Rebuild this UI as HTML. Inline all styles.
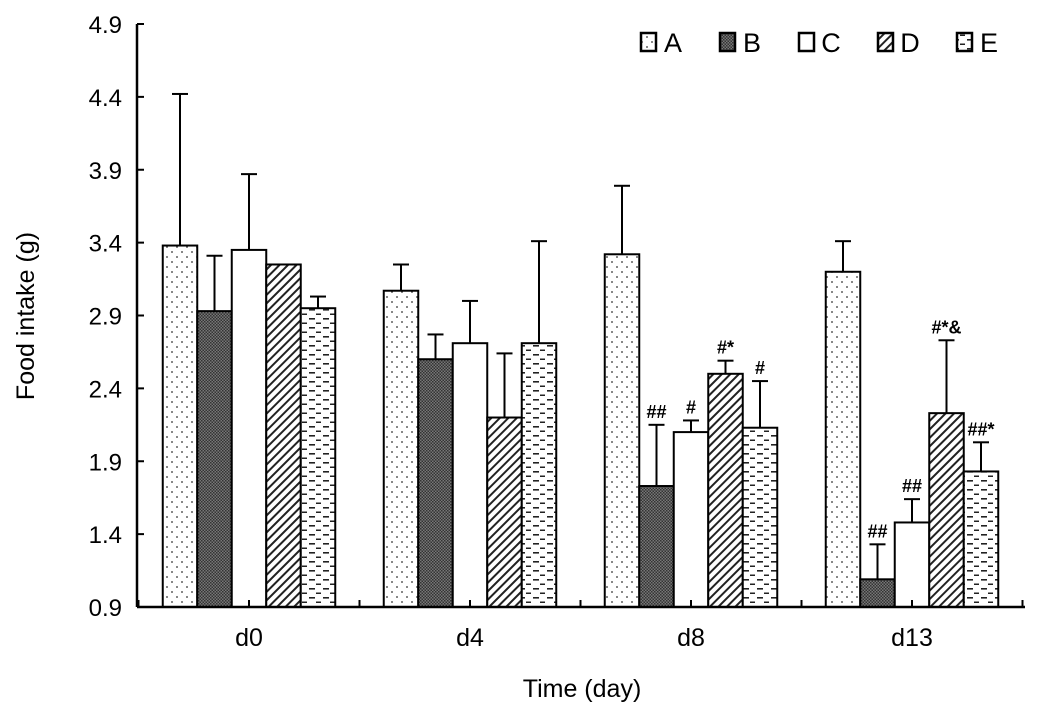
<!DOCTYPE html>
<html><head><meta charset="utf-8"><style>
body{margin:0;background:#fff}
svg text{font-family:"Liberation Sans",Arial,sans-serif;fill:#000}
</style></head><body>
<svg id="chart" width="1038" height="716" xmlns="http://www.w3.org/2000/svg">
<defs>
<pattern id="pA" width="10" height="10" patternUnits="userSpaceOnUse"><rect width="10" height="10" fill="#fff"/><circle cx="2" cy="2" r="0.9" fill="#333"/><circle cx="7" cy="7" r="0.9" fill="#333"/></pattern>
<pattern id="pB" width="3" height="3" patternUnits="userSpaceOnUse"><rect width="3" height="3" fill="#777"/><rect width="1.5" height="1.5" fill="#333"/><rect x="1.5" y="1.5" width="1.5" height="1.5" fill="#333"/></pattern>
<pattern id="pC" width="4" height="4" patternUnits="userSpaceOnUse"><rect width="4" height="4" fill="#fff"/></pattern>
<pattern id="pD" width="6" height="6" patternUnits="userSpaceOnUse" patternTransform="rotate(45)"><rect width="6" height="6" fill="#fff"/><rect width="2" height="6" fill="#222"/></pattern>
<pattern id="pE" width="14" height="9" patternUnits="userSpaceOnUse"><rect width="14" height="9" fill="#fff"/><rect x="1" y="3" width="6" height="1.6" fill="#222"/><rect x="8" y="7.5" width="5" height="1.5" fill="#222"/></pattern>
</defs>
<g id="plot"></g>
<text transform="translate(34,316) rotate(-90)" text-anchor="middle" font-size="25">Food intake (g)</text>
<text x="582" y="697" text-anchor="middle" font-size="25">Time (day)</text>
</svg>
<script>
const categories = ["d0","d4","d8","d13"];
const seriesNames = ["A","B","C","D","E"];
const seriesA = [3.38,3.07,3.32,3.20];
const seriesB = [2.93,2.60,1.73,1.09];
const seriesC = [3.35,2.71,2.10,1.48];
const seriesD = [3.25,2.20,2.50,2.23];
const seriesE = [2.95,2.71,2.13,1.83];
const errA = [4.42,3.25,3.79,3.41];
const errB = [3.31,2.77,2.15,1.33];
const errC = [3.87,3.00,2.18,1.64];
const errD = [3.25,2.64,2.59,2.73];
const errE = [3.03,3.41,2.45,2.03];
const notesA = ["","","",""];
const notesB = ["","","##","##"];
const notesC = ["","","#","##"];
const notesD = ["","","#*","#*&"];
const notesE = ["","","#","##*"];
const yTicks = [0.9,1.4,1.9,2.4,2.9,3.4,3.9,4.4,4.9];

const NS="http://www.w3.org/2000/svg";
const g=document.getElementById('plot');
const x0=137,xEnd=1025,yTop=24,yBot=607,yMin=0.9,yMax=4.9;
const groupW=221, firstCenter=249;
const barW=34.5;
const y=v=>yBot-(v-yMin)/(yMax-yMin)*(yBot-yTop);
const gx=i=>firstCenter+groupW*i;
function el(t,a){const e=document.createElementNS(NS,t);for(const k in a)e.setAttribute(k,a[k]);g.appendChild(e);return e;}
const vals=[seriesA,seriesB,seriesC,seriesD,seriesE];
const errs=[errA,errB,errC,errD,errE];
const notes=[notesA,notesB,notesC,notesD,notesE];
const pats=["pA","pB","pC","pD","pE"];
categories.forEach((c,i)=>{
  vals.forEach((s,j)=>{
    const bx=gx(i)+(j-2.5)*barW;
    const ex=bx+barW/2;
    if(errs[j][i]>s[i]){
      const e=el('line',{x1:ex,x2:ex,y1:y(errs[j][i]),y2:y(s[i]),stroke:'#000','stroke-width':2});
      
      
      const cap=el('line',{x1:ex-8,x2:ex+8,y1:y(errs[j][i]),y2:y(errs[j][i]),stroke:'#000','stroke-width':2});
      
      
    }
    const r=el('rect',{x:bx,y:y(s[i]),width:barW,height:yBot-y(s[i]),fill:'url(#'+pats[j]+')',stroke:'#000','stroke-width':2});
    
    
    if(notes[j][i]){
      const t=el('text',{x:ex,y:y(errs[j][i])-7,'text-anchor':'middle','font-size':18,'font-weight':'bold'});
      t.textContent=notes[j][i];
      
      
    }
  });
  const t=el('text',{x:gx(i),y:646,'text-anchor':'middle','font-size':25});
  t.textContent=c;
  
  
  [gx(i)-groupW/2,gx(i),gx(i)+groupW/2].forEach(tx=>{
    const tk=el('line',{x1:tx,x2:tx,y1:yBot-7,y2:yBot,stroke:'#000','stroke-width':2});
    
    
  });
});
yTicks.forEach(v=>{
  const tk=el('line',{x1:x0,x2:x0+7,y1:y(v),y2:y(v),stroke:'#000','stroke-width':2});
  
  
  const t=el('text',{x:x0-15,y:y(v)+9,'text-anchor':'end','font-size':24});
  t.textContent=v.toFixed(1);
  
  
});
const ya=el('line',{x1:x0,x2:x0,y1:yTop,y2:yBot,stroke:'#000','stroke-width':2.5});


const xa=el('line',{x1:x0,x2:xEnd,y1:yBot,y2:yBot,stroke:'#000','stroke-width':2.5});


seriesNames.forEach((n,j)=>{
  const lx=641+j*79;
  const b=el('rect',{x:lx,y:33,width:15,height:18,fill:'url(#'+pats[j]+')',stroke:'#000','stroke-width':2.5});
  
  
  const t=el('text',{x:lx+32,y:52,'text-anchor':'middle','font-size':27});
  t.textContent=n;
  
  
});
</script>
</body></html>
